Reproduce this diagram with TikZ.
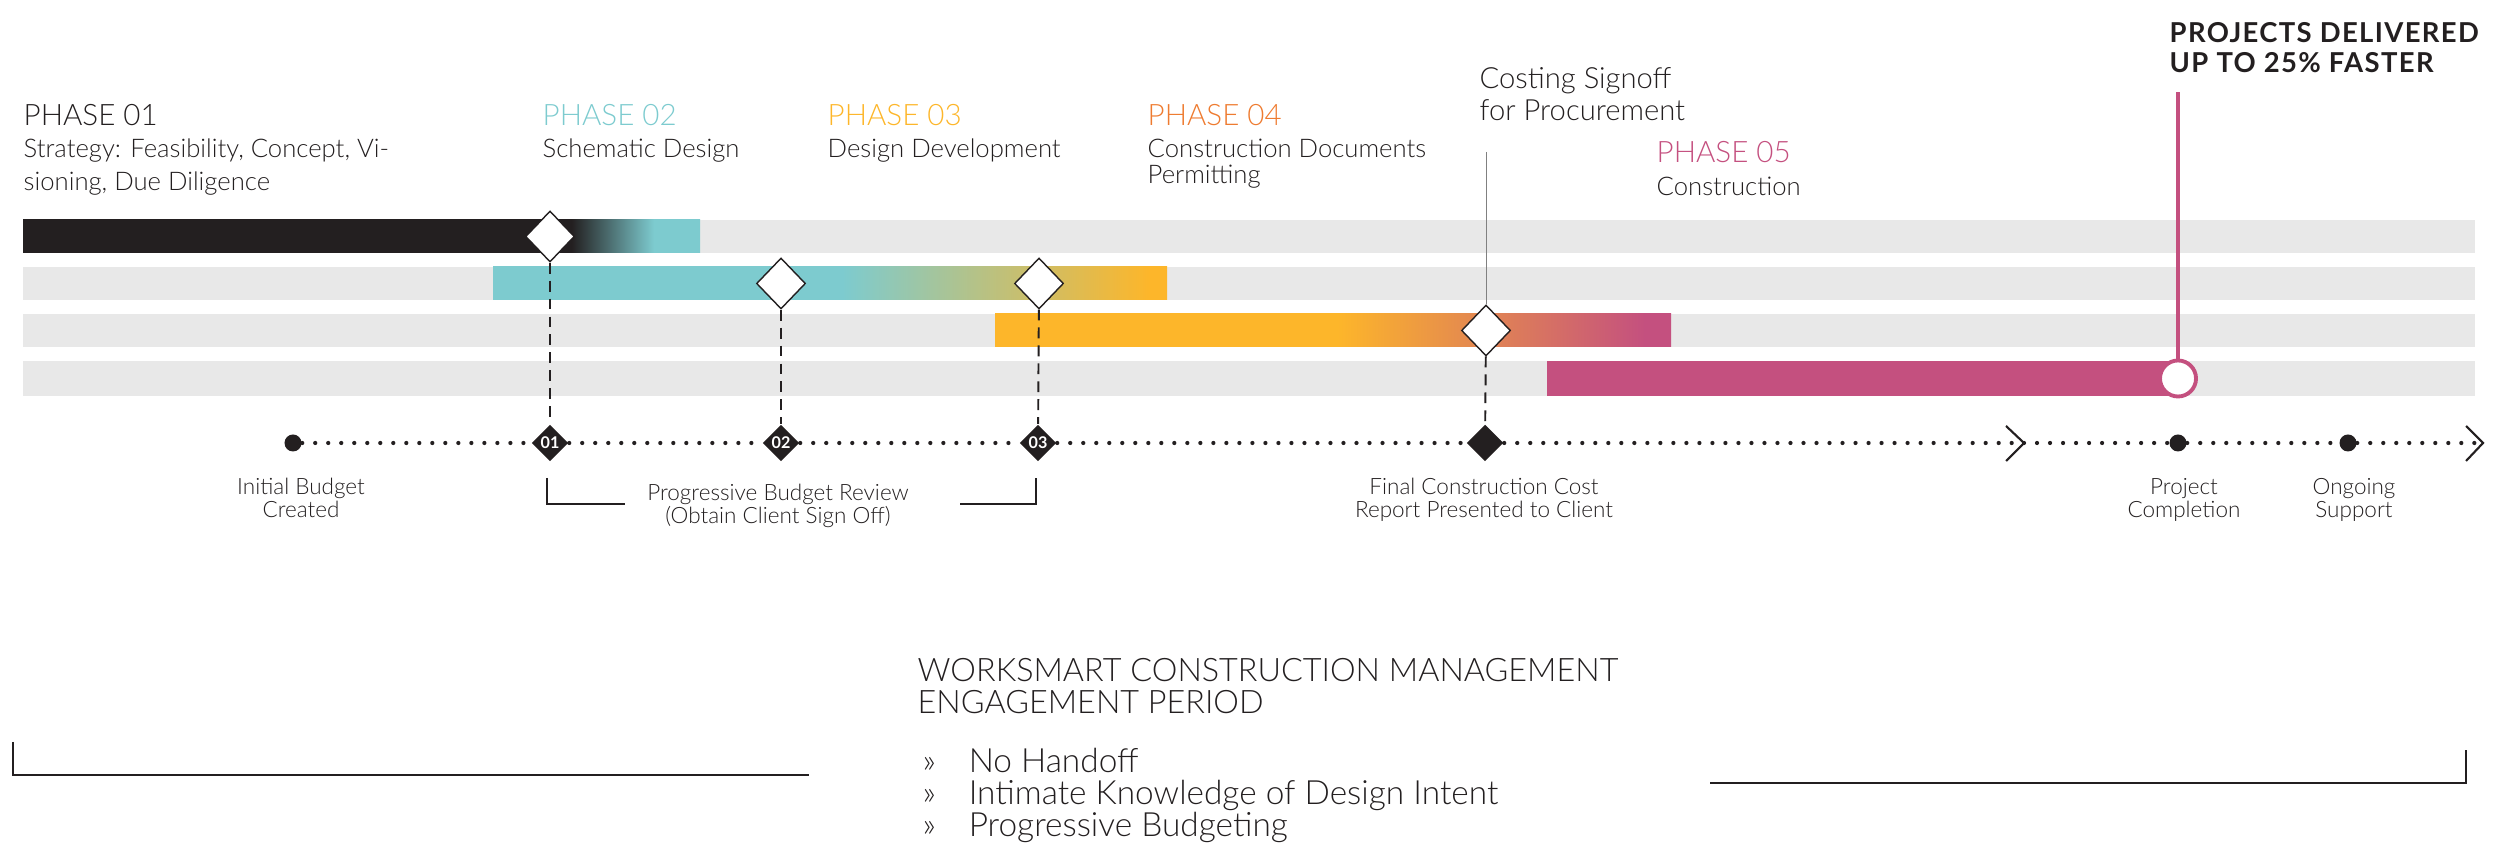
\documentclass[tikz,border=0pt]{standalone}
\usepackage{fontspec}
\IfFontExistsTF{Lato Light}{\setmainfont{Lato Light}[BoldFont=Lato Bold]}{\setmainfont{Lato}}
\usepackage{tikz}
\usetikzlibrary{shapes.geometric, positioning}
\definecolor{colorStrategy}{HTML}{231F20}
\definecolor{colorSchematic}{HTML}{7DCBCF}
\definecolor{colorDevelopment}{HTML}{FDB62A}
\definecolor{colorDocuments}{HTML}{EE7B30}
\definecolor{colorConstruction}{HTML}{C4507F}
\definecolor{colorRow}{HTML}{E8E8E8}
\colorlet{colorInk}{colorStrategy}
\pgfdeclarehorizontalshading{shadeStrategy}{100bp}{color(0bp)=(colorStrategy); color(65.5bp)=(colorStrategy); color(71.6bp)=(colorSchematic); color(100bp)=(colorSchematic)}
\pgfdeclarehorizontalshading{shadeSchematic}{100bp}{color(0bp)=(colorSchematic); color(50.9bp)=(colorSchematic); color(73.7bp)=(colorDevelopment); color(100bp)=(colorDevelopment)}
\pgfdeclarehorizontalshading{shadeDevelopment}{100bp}{color(0bp)=(colorDevelopment); color(50.3bp)=(colorDevelopment); color(73.1bp)=(colorConstruction); color(100bp)=(colorConstruction)}
\newcommand{\bul}{\makebox[0.46cm][l]{»}}
\tikzset{
  gate/.style={diamond, draw=colorInk, fill=white, line width=0.4pt, minimum width=0.49cm, minimum height=0.51cm},
  milestone/.style={diamond, fill=colorInk, text=white, minimum size=0.37cm, font=\fontsize{4.6}{5}\selectfont\bfseries},
  event/.style={circle, fill=colorInk, minimum size=0.17cm},
  finish/.style={circle, draw=colorConstruction, fill=white, line width=1.1pt, minimum size=0.36cm},
  phasetitle/.style={anchor=base west, font=\fontsize{8.4}{10}\selectfont},
  phasetext/.style={anchor=base west, align=left, text=colorInk, font=\fontsize{7.3}{9.4}\selectfont},
  eventtext/.style={anchor=base, align=center, text=colorInk, font=\fontsize{6.4}{6.8}\selectfont},
  track/.style={colorInk, line width=1.2pt, line cap=round, dash pattern=on 0pt off 3.7pt},
  guide/.style={colorInk, line width=0.55pt, dash pattern=on 3.1pt off 2pt},
  hair/.style={gray, line width=0.25pt},
  chevron/.style={colorInk, line width=0.6pt},
  brace/.style={colorInk, line width=0.45pt}
}

\begin{document}
\begin{tikzpicture}[x=0.01cm, y=-0.01cm, every node/.style={inner sep=0pt}]
\useasboundingbox (0,0) rectangle (2500,862);
% rows
\fill[colorRow] (23,220) rectangle (2475,253);
\fill[colorRow] (23,267) rectangle (2475,300);
\fill[colorRow] (23,314) rectangle (2475,347);
\fill[colorRow] (23,361) rectangle (2475,396);
% bars
\shade[shading=shadeStrategy] (23,220) rectangle (700,253);
\shade[shading=shadeSchematic] (493,267) rectangle (1167,300);
\shade[shading=shadeDevelopment] (995,314) rectangle (1671,347);
\fill[colorConstruction] (1547,361) rectangle (2178,396);

% phases (multi-line texts sit on their last line)
\node[phasetitle, text=colorStrategy] (p01) at (23,126) {PHASE 01};
\node[phasetext] (s01) at (23,191) {Strategy: Feasibility, Concept, Vi-\\sioning, Due Diligence};
\node[phasetitle, text=colorSchematic] (p02) at (542,126) {PHASE 02};
\node[phasetext] (s02) at (542,158) {Schematic Design};
\node[phasetitle, text=colorDevelopment] (p03) at (827,126) {PHASE 03};
\node[phasetext] (s03) at (827,158) {Design Development};
\node[phasetitle, text=colorDocuments] (p04) at (1147,126) {PHASE 04};
\node[phasetext, font=\fontsize{7.3}{7.5}\selectfont] (s04) at (1147,184) {Construction Documents\\Permitting};
\node[phasetitle, text=colorConstruction] (p05) at (1656,163) {PHASE 05};
\node[phasetext] (s05) at (1656,196) {Construction};
\node[phasetext, font=\fontsize{8.3}{9.1}\selectfont] (cost) at (1479,121) {Costing Signoff\\for Procurement};
\node[phasetext, font=\fontsize{7.8}{8.8}\selectfont\bfseries\addfontfeature{LetterSpace=5}] (fast) at (2169,73) {PROJECTS DELIVERED\\UP TO 25\% FASTER};

% gates on the bars
\node[gate] (g01) at (550,236.5) {};
\node[gate] (g02) at (781,283.5) {};
\node[gate] (g03) at (1039,283.5) {};
\node[gate] (gcost) at (1486,330.5) {};
\node[finish] (done) at (2178,378.5) {};
\coordinate (costTop) at (1486,152);
\coordinate (fastTop) at (2178,92);

% timeline
\node[event] (budget) at (293,443) {};
\node[milestone] (m01) at (550,443) {01};
\node[milestone] (m02) at (781,443) {02};
\node[milestone] (m03) at (1038,443) {03};
\node[milestone] (report) at (1485,443) {};
\coordinate (chevA) at (2024,443);
\node[event] (complete) at (2178,443) {};
\node[event] (support) at (2348,443) {};
\coordinate (chevB) at (2483,443);

\draw[track] (budget) -- (m01);
\draw[track] (m01) -- (m02);
\draw[track] (m02) -- (m03);
\draw[track] (m03) -- (report);
\draw[track] (report) -- (chevA);
\draw[track] (chevA) -- (complete);
\draw[track] (complete) -- (support);
\draw[track] (support) -- (chevB);
\draw[chevron] ([xshift=-0.18cm, yshift=0.17cm]chevA) -- (chevA) -- ([xshift=-0.18cm, yshift=-0.18cm]chevA);
\draw[chevron] ([xshift=-0.17cm, yshift=0.17cm]chevB) -- (chevB) -- ([xshift=-0.17cm, yshift=-0.18cm]chevB);

\draw[guide] (g01) -- (m01);
\draw[guide] (g02) -- (m02);
\draw[guide] (g03) -- (m03);
\draw[guide] (gcost) -- (report);
\draw[hair] (costTop) -- (gcost);
\draw[colorConstruction, line width=1.1pt] (done) -- (fastTop);

\node[eventtext] (tBudget) at (301,518) {Initial Budget\\Created};
\node[eventtext] (tReview) at (778,524) {Progressive Budget Review\\(Obtain Client Sign Off)};
\node[eventtext] (tReport) at (1484,518) {Final Construction Cost\\Report Presented to Client};
\node[eventtext] (tComplete) at (2184,518) {Project\\Completion};
\node[eventtext] (tSupport) at (2354,518) {Ongoing\\Support};
\draw[brace] (547,478) -- (547,504) -- (625,504);
\draw[brace] (960,504) -- (1036,504) -- (1036,478);

% engagement period
\node[phasetext, font=\fontsize{9.2}{9.1}\selectfont] (period) at (917,714) {WORKSMART CONSTRUCTION MANAGEMENT\\ENGAGEMENT PERIOD};
\node[phasetext, font=\fontsize{9.5}{9.1}\selectfont] (gains) at (922,837) {\bul No Handoff\\\bul Intimate Knowledge of Design Intent\\\bul Progressive Budgeting};
\draw[brace, line width=0.7pt] (13,742) -- (13,775) -- (809,775);
\draw[brace, line width=0.7pt] (1710,783) -- (2466,783) -- (2466,750);
\end{tikzpicture}
\end{document}
